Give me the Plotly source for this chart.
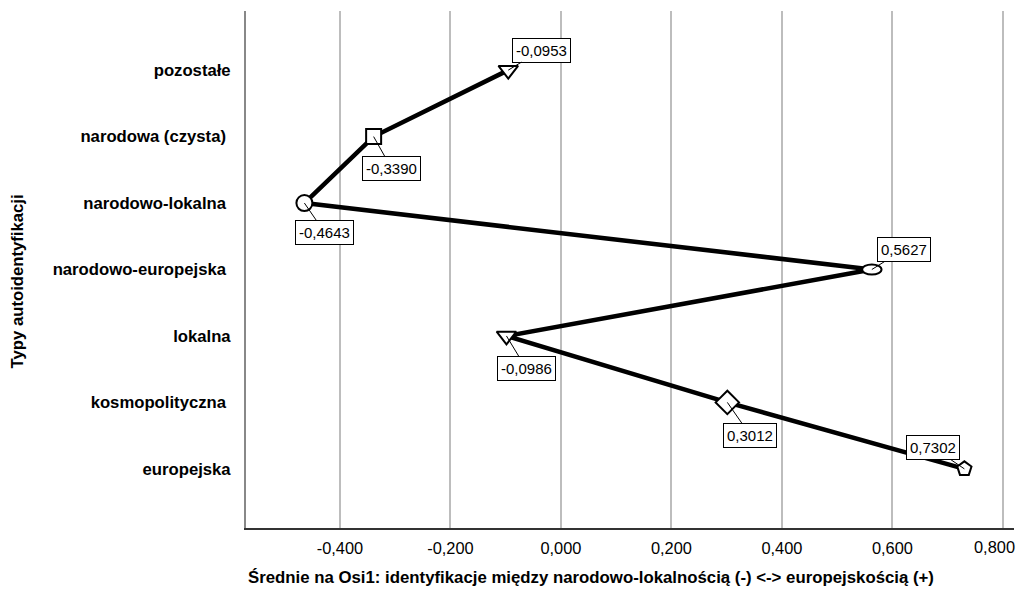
import plotly.graph_objects as go

categories = ["pozostałe", "narodowa (czysta)", "narodowo-lokalna", "narodowo-europejska",
              "lokalna", "kosmopolityczna", "europejska"]
tick_labels = ["pozostałe", "narodowa (czysta)\u00a0", "narodowo-lokalna\u00a0", "narodowo-europejska\u00a0",
               "lokalna", "kosmopolityczna\u00a0", "europejska"]
means = [-0.0953, -0.3390, -0.4643, 0.5627, -0.0986, 0.3012, 0.7302]
symbols = ["triangle-down", "square", "circle", "circle", "triangle-down", "diamond", "pentagon"]
sizes = [17, 15, 16, 0, 17, 18, 15]
label_offsets = [(33, -20), (18, 32), (20, 29), (32, -20), (20, 33), (23, 33), (-31, -21)]
x_ticks = [-0.4, -0.2, 0.0, 0.2, 0.4, 0.6, 0.8]
x_ticktext = ["-0,400", "-0,200", "0,000", "0,200", "0,400", "0,600", "0,800"]

FONT = "Liberation Sans, Arial, sans-serif"
yidx = list(range(len(categories)))

fig = go.Figure()
fig.add_trace(go.Scatter(
    x=means, y=yidx, mode="lines",
    line=dict(color="black", width=4.5),
    hoverinfo="skip", showlegend=False, cliponaxis=False,
))
fig.add_trace(go.Scatter(
    x=means, y=yidx, mode="markers",
    marker=dict(symbol=symbols, size=sizes, color="white", opacity=1,
                line=dict(color="black", width=2)),
    hoverinfo="skip", showlegend=False, cliponaxis=False,
))

# ellipse marker for narodowo-europejska
ei = categories.index("narodowo-europejska")
fig.add_shape(type="circle", xref="x", yref="y",
              x0=means[ei] - 0.0175, x1=means[ei] + 0.0175,
              y0=ei - 0.075, y1=ei + 0.075,
              fillcolor="white", line=dict(color="black", width=2), layer="above")

annotations = []
for i, (v, (ax, ay)) in enumerate(zip(means, label_offsets)):
    annotations.append(dict(
        x=v, y=i, xref="x", yref="y",
        text=f"{v:.4f}".replace(".", ","),
        showarrow=True, arrowhead=0, arrowwidth=1, arrowcolor="black",
        ax=ax, ay=ay, standoff=0,
        bgcolor="white", bordercolor="black", borderwidth=1, borderpad=3,
        font=dict(family=FONT, size=15, color="black"),
    ))

# last x tick label, nudged left so it stays inside the page (as in the reference)
annotations.append(dict(
    text=x_ticktext[-1], xref="x", yref="paper", x=x_ticks[-1], y=0,
    xanchor="right", yanchor="middle", xshift=14, yshift=-19,
    showarrow=False, font=dict(family=FONT, size=16.4, color="black"),
))

annotations.append(dict(
    text="<b>Średnie na Osi1: identyfikacje między narodowo-lokalnością (-) <-> europejskością (+)</b>",
    xref="paper", yref="paper", x=0, y=-0.0967, xanchor="left", yanchor="middle",
    showarrow=False, font=dict(family=FONT, size=16.8, color="black"),
))
annotations.append(dict(
    text="<b>Typy autoidentyfikacji</b>", textangle=-90,
    xref="paper", yref="paper", x=-0.297, y=0.4768, xanchor="center", yanchor="middle",
    showarrow=False, font=dict(family=FONT, size=16.7, color="black"),
))

fig.update_layout(
    width=1019, height=592,
    margin=dict(l=246, r=5, t=11, b=64, autoexpand=False),
    paper_bgcolor="white", plot_bgcolor="white",
    font=dict(family=FONT, color="black"),
    annotations=annotations,
    xaxis=dict(
        range=[-0.570, 0.820], tickvals=x_ticks, ticktext=x_ticktext[:-1] + [""],
        showgrid=True, gridcolor="#bdbdbd", gridwidth=1.5, zeroline=False,
        showline=True, linecolor="#333333", linewidth=2,
        ticks="", tickfont=dict(family=FONT, size=16.4, color="black"),
        ticklabelstandoff=4, automargin=False,
    ),
    yaxis=dict(
        range=[6.89, -0.89], tickvals=yidx, ticktext=[f"<b>{t}</b>" for t in tick_labels],
        showgrid=False, zeroline=False,
        showline=True, linecolor="#888888", linewidth=2,
        ticks="", tickfont=dict(family=FONT, size=16.7, color="black"),
        ticklabelstandoff=10, automargin=False,
    ),
)

fig.write_html("out.html", config={"displayModeBar": False},
               post_script="document.body.style.margin='0';document.body.style.overflow='hidden';")
